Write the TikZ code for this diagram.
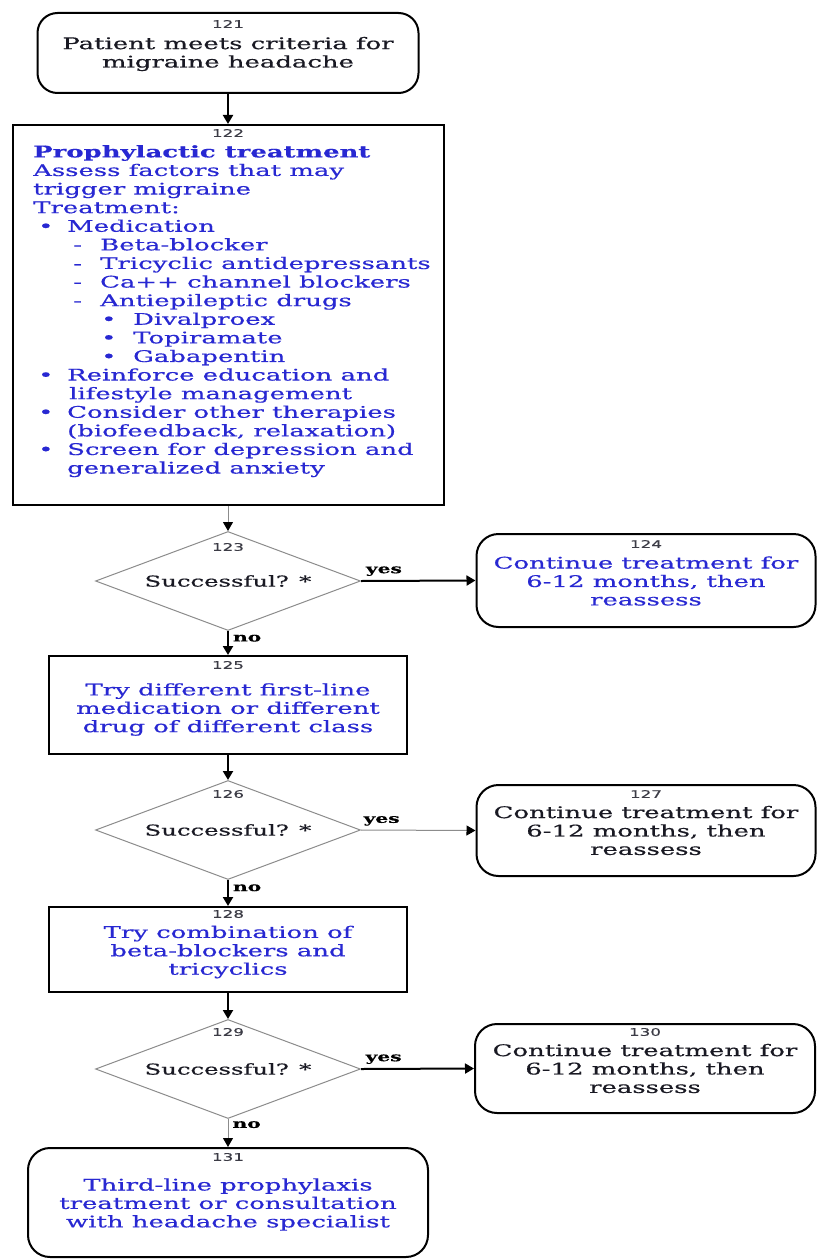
\documentclass[tikz,border=0pt]{standalone}
\usepackage{fontspec}
\setmainfont{DejaVu Serif}[FakeStretch=1.62,FakeBold=0.5]
\newfontfamily\numfont{DejaVu Sans}[FakeStretch=1.6,FakeBold=0.4]
\usetikzlibrary{shapes.geometric,arrows.meta}
\definecolor{txtblue}{RGB}{40,40,210}
\definecolor{txtdark}{RGB}{25,25,35}
\definecolor{numgray}{RGB}{60,60,70}
\definecolor{linegray}{RGB}{140,140,140}
\newcommand{\bul}{\makebox[34pt][l]{\hspace*{5pt}•}}
\newcommand{\dsh}{\hspace*{40pt}\makebox[27pt][l]{-}}
\newcommand{\subbul}{\hspace*{68pt}\makebox[32pt][l]{•}}
\begin{document}
\begin{tikzpicture}[x=1pt,y=-1pt,
  procbox/.style={draw=black,line width=2pt,rectangle,inner sep=0pt},
  roundbox/.style={procbox,rounded corners=22pt},
  decision/.style={draw=linegray,line width=1pt,diamond,aspect=2.68,
    minimum width=265pt,minimum height=99pt,inner sep=0pt,
    font=\fontsize{15}{17}\selectfont,text=txtdark},
  numlabel/.style={font=\numfont\fontsize{10.5}{12}\selectfont,text=numgray,inner sep=0pt},
  bodytext/.style={font=\fontsize{16}{18.4}\selectfont,align=center,inner sep=0pt},
  bluetext/.style={bodytext,text=txtblue},
  darktext/.style={bodytext,text=txtdark},
  flow/.style={draw=black,line width=2pt,-{Triangle[length=9pt,width=10pt]}},
  thinflow/.style={draw=linegray,line width=1pt,-{Triangle[length=9pt,width=10pt,color=black]}},
  branch/.style={font=\bfseries\fontsize{12.5}{14}\selectfont,inner sep=0pt,text=black}]
\fill[white] (0,0) rectangle (817,1260);
\useasboundingbox (0,0) rectangle (817,1260);

% 121
\node[roundbox,minimum width=381pt,minimum height=80pt,rounded corners=20pt] (n121) at (228,53) {};
\node[numlabel] (l121) at (228,24) {121};
\node[darktext] (t121) at (228,54) {Patient meets criteria for\\migraine headache};

% 122
\node[procbox,minimum width=431pt,minimum height=380pt] (n122) at (228,315) {};
\node[numlabel] (l122) at (228,133) {122};
\node[bluetext,align=left,anchor=north west,font=\fontsize{16}{18.6}\selectfont] (t122) at (33,145) {%
\textbf{Prophylactic treatment}\\
Assess factors that may\\
trigger migraine\\
Treatment:\\
\bul Medication\\
\dsh Beta-blocker\\
\dsh Tricyclic antidepressants\\
\dsh Ca++ channel blockers\\
\dsh Antiepileptic drugs\\
\subbul Divalproex\\
\subbul Topiramate\\
\subbul Gabapentin\\
\bul Reinforce education and\\
\hspace*{36pt}lifestyle management\\
\bul Consider other therapies\\
\hspace*{34pt}(biofeedback, relaxation)\\
\bul Screen for depression and\\
\hspace*{34pt}generalized anxiety};

% 123
\node[decision] (d123) at (228,581) {Successful? *};
\node[numlabel] (l123) at (228,547) {123};

% 124
\node[roundbox,minimum width=339pt,minimum height=93pt] (n124) at (646,580.5) {};
\node[numlabel] (l124) at (646,544) {124};
\node[bluetext] (t124) at (646,581) {Continue treatment for\\6-12 months, then\\reassess};

% 125
\node[procbox,minimum width=358pt,minimum height=98pt] (n125) at (228,705) {};
\node[numlabel] (l125) at (228,665) {125};
\node[bluetext] (t125) at (228,709.5) {Try different first-line\\medication or different\\drug of different class};

% 126
\node[decision] (d126) at (228,830) {Successful? *};
\node[numlabel] (l126) at (228,794) {126};

% 127
\node[roundbox,minimum width=339pt,minimum height=91pt] (n127) at (646,830.5) {};
\node[numlabel] (l127) at (646,794) {127};
\node[darktext] (t127) at (646,830.5) {Continue treatment for\\6-12 months, then\\reassess};

% 128
\node[procbox,minimum width=358pt,minimum height=85pt] (n128) at (228,949.5) {};
\node[numlabel] (l128) at (228,914) {128};
\node[bluetext] (t128) at (228,952) {Try combination of\\beta-blockers and\\tricyclics};

% 129
\node[decision] (d129) at (228,1069) {Successful? *};
\node[numlabel] (l129) at (228,1032) {129};

% 130
\node[roundbox,minimum width=340pt,minimum height=89pt] (n130) at (645,1068.5) {};
\node[numlabel] (l130) at (645,1032) {130};
\node[darktext] (t130) at (645,1068.5) {Continue treatment for\\6-12 months, then\\reassess};

% 131
\node[roundbox,minimum width=400pt,minimum height=109pt] (n131) at (228,1202.5) {};
\node[numlabel] (l131) at (228,1157) {131};
\node[bluetext] (t131) at (228,1204.5) {Third-line prophylaxis\\treatment or consultation\\with headache specialist};

% connectors
\draw[flow] (n121) -- (n122);
\draw[thinflow] (n122) -- (d123);
\draw[flow] (d123.east) -- node[branch,pos=0.2,above=4pt] {yes} (n124.west);
\draw[flow] (d123.south) -- node[branch,pos=0.3,right=4pt] {no} (n125.north);
\draw[flow] (n125) -- (d126);
\draw[thinflow] (d126.east) -- node[branch,pos=0.18,above=4pt] {yes} (n127.west);
\draw[flow] (d126.south) -- node[branch,pos=0.3,right=4pt] {no} (n128.north);
\draw[flow] (n128) -- (d129);
\draw[flow] (d129.east) -- node[branch,pos=0.2,above=4pt] {yes} (n130.west);
\draw[thinflow] (d129.south) -- node[branch,pos=0.2,right=4pt] {no} (n131.north);
\end{tikzpicture}
\end{document}
